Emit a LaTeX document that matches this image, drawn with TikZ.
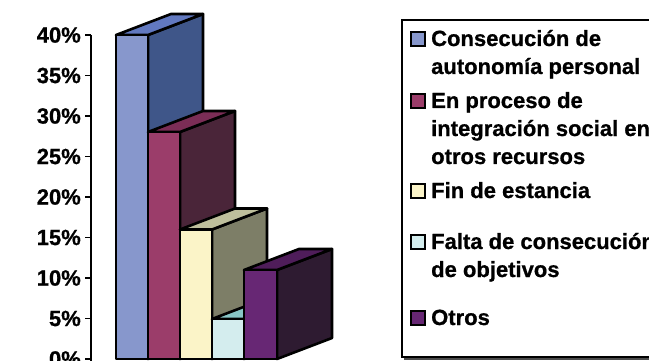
\documentclass[tikz,border=0pt]{standalone}
\usepackage{fontspec}
\setmainfont{Liberation Sans}[BoldFeatures={FakeBold=0.8}]
\definecolor{bAfront}{HTML}{8797CC}\definecolor{bAside}{HTML}{3F5689}\definecolor{bAtop}{HTML}{6279C0}
\definecolor{bBfront}{HTML}{9B3D6A}\definecolor{bBside}{HTML}{4A2539}\definecolor{bBtop}{HTML}{7B2D56}
\definecolor{bCfront}{HTML}{FBF4C8}\definecolor{bCside}{HTML}{7D7E67}\definecolor{bCtop}{HTML}{BEBF9C}
\definecolor{bDfront}{HTML}{D4EDEE}\definecolor{bDside}{HTML}{6A8C8E}\definecolor{bDtop}{HTML}{88C6C6}
\definecolor{bEfront}{HTML}{672774}\definecolor{bEside}{HTML}{2E1B31}\definecolor{bEtop}{HTML}{4F1D5A}
\tikzset{
  barline/.style={draw=black, line width=2.6pt, line join=round},
  ticklabel/.style={anchor=east, inner sep=0pt, font=\fontsize{22}{26}\selectfont\bfseries},
  legtext/.style={anchor=base west, inner sep=0pt, font=\fontsize{22}{28}\selectfont\bfseries},
  legsq/.style={draw=black, line width=1.3pt},
}
\newcommand{\chartbar}[6]{%
  \filldraw[barline, fill=#5] (#2,#3) -- ++(55,-21) -- (#2+55,338) -- (#2,359) -- cycle;
  \filldraw[barline, fill=#6] (#1,#3) -- ++(55,-21) -- (#2+55,#3-21) -- (#2,#3) -- cycle;
  \filldraw[barline, fill=#4] (#1,#3) rectangle (#2,359);
}
\begin{document}
\begin{tikzpicture}[x=1pt,y=-1pt]
\useasboundingbox (0,0) rectangle (649,361);
\fill[white] (0,0) rectangle (649,361);
% axis
\draw[line width=1.6pt] (91,35) -- (91,362);
\foreach \v/\lab [count=\i] in {0/0\%,5/5\%,10/10\%,15/15\%,20/20\%,25/25\%,30/30\%,35/35\%,40/40\%}{
  \draw[line width=1.6pt] (85,359-8.1*\v) -- (91,359-8.1*\v);
  \node[ticklabel] (t\i) at (81,359-8.1*\v) {\lab};
}
% bars
\chartbar{116}{148}{35}{bAfront}{bAside}{bAtop}
\chartbar{148}{180}{132}{bBfront}{bBside}{bBtop}
\chartbar{180}{212}{229.5}{bCfront}{bCside}{bCtop}
\chartbar{212}{244}{319}{bDfront}{bDside}{bDtop}
\chartbar{244}{277}{270}{bEfront}{bEside}{bEtop}
% legend
\fill[black!70] (404,22) rectangle (662,359.5);
\draw[line width=1.3pt, fill=white] (402,20) rectangle (660,357);
\draw[legsq, fill=bAfront] (411,32) rectangle (425,46);
\node[legtext] (l1a) at (431,46) {Consecución de};
\node[legtext] (l1b) at (431,74) {autonomía personal};
\draw[legsq, fill=bBfront] (411,94) rectangle (425,108);
\node[legtext] (l2a) at (431,108) {En proceso de};
\node[legtext] (l2b) at (431,136) {integración social en};
\node[legtext] (l2c) at (431,164) {otros recursos};
\draw[legsq, fill=bCfront] (411,184) rectangle (425,198);
\node[legtext] (l3a) at (431,198) {Fin de estancia};
\draw[legsq, fill=bDfront] (411,235) rectangle (425,249);
\node[legtext] (l4a) at (431,249) {Falta de consecución};
\node[legtext] (l4b) at (431,277) {de objetivos};
\draw[legsq, fill=bEfront] (411,311) rectangle (425,325);
\node[legtext] (l5a) at (431,325) {Otros};
\end{tikzpicture}
\end{document}
